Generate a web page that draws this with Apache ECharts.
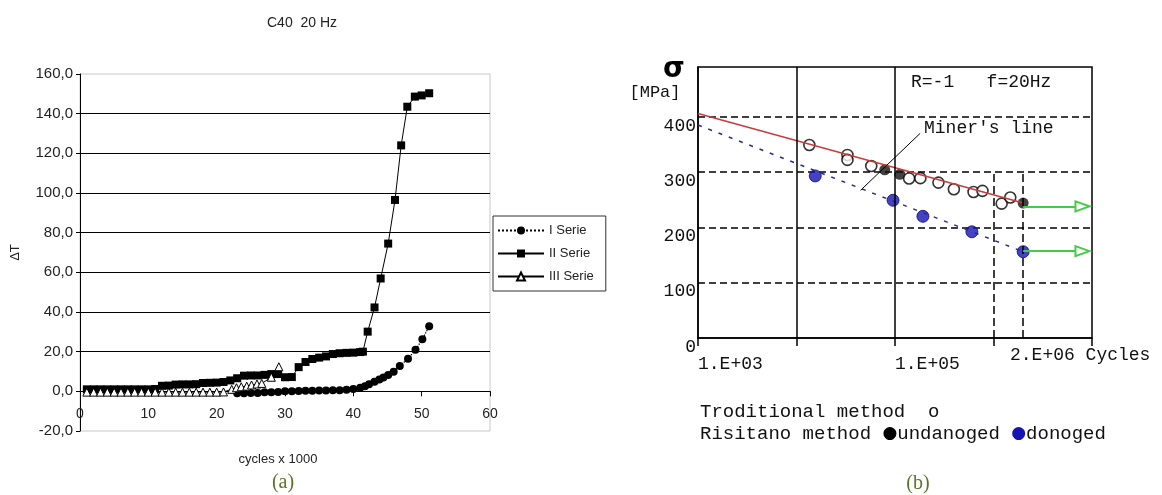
<!DOCTYPE html>
<html>
<head>
<meta charset="utf-8">
<script src="https://cdn.jsdelivr.net/npm/echarts@6/dist/echarts.min.js"></script>
<style>
html, body { margin: 0; padding: 0; background: #fff; }
#chart { width: 1162px; height: 495px; }
</style>
</head>
<body>
<div id="chart"></div>
<script>
// (a) temperature rise vs cycles x 1000
const serieI = [[23,-1],[24,-1],[25,-0.8],[26,-0.8],[27,-0.5],[28,-0.5],[29,-0.3],[30,0],[31,0],[32,0.2],[33,0.3],[34,0.3],[35,0.4],[36,0.4],[37,0.5],[38,0.6],[39,0.8],[40,1.2],[41,1.8],[41.7,2.6],[42.3,3.6],[43.1,4.8],[43.8,6],[44.4,7],[45.1,8.2],[45.9,9.9],[46.8,12.8],[48,16.4],[49.1,21],[50.1,26.2],[51.1,32.8]];
const serieII = [[1,1],[2,1],[3,1],[4,1],[5,1],[6,1],[7,1],[8,1],[9,1],[10,1],[11,1.2],[12,2.8],[13,2.9],[14,3.4],[15,3.5],[16,3.5],[17,3.6],[18,4.2],[19,4.3],[20,4.4],[21,4.7],[22,5.5],[23,6.6],[24,7.9],[25,8],[26,8],[27,8.3],[28,8.7],[29,8.7],[30,7.1],[31,7.2],[32,12.2],[33,14.8],[34,16.3],[35,17],[36,17.6],[37,18.8],[38,19.2],[39,19.4],[40,19.5],[41,19.8],[41.4,20],[42.1,30.1],[43.1,42.3],[44,56.9],[45.1,74.5],[46.1,96.5],[47,124],[47.9,143.5],[49,148.6],[50,149.2],[51.1,150.3]];
const serieIII = [[1,-0.4],[2,-0.4],[3,-0.4],[4,-0.4],[5,-0.4],[6,-0.4],[7,-0.4],[8,-0.4],[9,-0.4],[10,-0.4],[11,-0.4],[12,-0.4],[13,-0.4],[14,-0.4],[15,-0.4],[16,-0.4],[17,-0.4],[18,-0.4],[19,-0.4],[20,-0.4],[21,-0.3],[22.2,1],[22.9,1.8],[23.6,2.3],[24.4,2.6],[25.1,3.2],[25.9,3.7],[26.6,4],[28,7.1],[29.1,12.4]];
const legendA = ['I Serie', 'II Serie', 'III Serie'];

// (b) S-N diagram
const tradPoints = [[13500,349],[32900,331],[32900,322],[57400,311],[139000,288.5],[181000,289],[276000,281],[396000,269],[627000,264],[773000,266],[1210000,243],[1480000,254]];
const undamagedPoints = [[78700,304],[112000,296],[2000000,244]];
const damagedPoints = [[15500,293],[95500,249],[192000,220],[603000,192],[2000000,156]];
const minerLine = [[1000,406],[2000000,244]];
const risitanoLine = [[1000,385],[2000000,156]];
const minerLeader = [[180000,370],[44700,267]];
const arrowLevels = [238, 157];
const arrowRange = [2000000, 8000000];
const solidVerticals = [1e4, 1e5];
const dashedVerticals = [1e6, 2e6];
const xLabelsB = ['1.E+03', '', '1.E+05', '', ''];

const fa = 'Liberation Sans, Arial, sans-serif';
const fb = 'Liberation Mono, DejaVu Sans Mono, monospace';

const chart = echarts.init(document.getElementById('chart'));

const gridLines = [];
solidVerticals.forEach(v => {
  gridLines.push([{ coord: [v, 0] }, { coord: [v, 490], lineStyle: { type: 'solid' } }]);
});
dashedVerticals.forEach(v => {
  gridLines.push([{ coord: [v, 0] }, { coord: [v, 300], lineStyle: { type: [8, 4] } }]);
});

chart.setOption({
  animation: false,
  grid: [
    { left: 80, top: 74, width: 410, height: 357, show: true, borderColor: '#c8c8c8', borderWidth: 1 },
    { left: 698, top: 67, width: 394, height: 271, show: true, borderColor: '#000', borderWidth: 1.5 }
  ],
  legend: {
    data: legendA, orient: 'vertical', left: 493, top: 216,
    padding: [8, 12, 8, 4], itemWidth: 46, itemHeight: 10, itemGap: 10,
    borderColor: '#333', borderWidth: 1, selectedMode: false,
    textStyle: { fontFamily: fa, fontSize: 13, color: '#222' }
  },
  xAxis: [
    {
      // axis drawn on the zero line: grid bottom is -20, so lift it by 20 units
      gridIndex: 0, type: 'value', min: 0, max: 60, interval: 10,
      position: 'bottom', offset: -39.7,
      axisLine: { onZero: false, lineStyle: { color: '#000', width: 1 } },
      axisTick: { length: 5, lineStyle: { color: '#000' } },
      axisLabel: { color: '#222', fontFamily: fa, fontSize: 14, margin: 16 },
      splitLine: { show: false }
    },
    {
      gridIndex: 1, type: 'log', logBase: 10, min: 1000, max: 1e7,
      axisLine: { lineStyle: { color: '#000', width: 1.5 } },
      axisTick: { length: 8, lineStyle: { color: '#000', width: 1.5 } },
      minorTick: { show: false },
      axisLabel: {
        color: '#111', fontFamily: fb, fontSize: 18, margin: 17, align: 'left',
        formatter: v => xLabelsB[Math.round(Math.log10(v)) - 3] || ''
      },
      splitLine: { show: false }
    }
  ],
  yAxis: [
    {
      gridIndex: 0, type: 'value', min: -20, max: 160, interval: 20,
      name: 'ΔT', nameLocation: 'middle', nameGap: 58, nameRotate: 90,
      nameTextStyle: { fontFamily: fa, fontSize: 13, color: '#222' },
      axisLine: { show: true, onZero: false, lineStyle: { color: '#000', width: 1 } },
      axisTick: { show: true, length: 4, lineStyle: { color: '#000' } },
      axisLabel: { color: '#222', fontFamily: fa, fontSize: 15, margin: 7,
        formatter: v => v.toFixed(1).replace('.', ',') },
      splitLine: { show: true, showMinLine: false, showMaxLine: false, lineStyle: { color: '#000', width: 1 } }
    },
    {
      gridIndex: 1, type: 'value', min: 0, max: 490, interval: 100,
      axisLine: { show: true, onZero: false, lineStyle: { color: '#000', width: 1.5 } },
      axisTick: { show: false },
      axisLabel: { color: '#111', fontFamily: fb, fontSize: 18, margin: 2, verticalAlign: 'top',
        formatter: v => (v % 100 === 0 ? String(v) : '') },
      splitLine: { show: true, showMinLine: false, showMaxLine: false, lineStyle: { color: '#000', width: 1.5, type: [7, 4] } }
    }
  ],
  series: [
    {
      name: 'I Serie', type: 'line', xAxisIndex: 0, yAxisIndex: 0, data: serieI,
      symbol: 'circle', symbolSize: 8, itemStyle: { color: '#000' },
      lineStyle: { color: '#000', width: 1.3, type: 'dotted' }
    },
    {
      name: 'II Serie', type: 'line', xAxisIndex: 0, yAxisIndex: 0, data: serieII,
      symbol: 'rect', symbolSize: 8, itemStyle: { color: '#000' },
      lineStyle: { color: '#000', width: 1 }
    },
    {
      name: 'III Serie', type: 'line', xAxisIndex: 0, yAxisIndex: 0, data: serieIII,
      symbol: 'triangle', symbolSize: 8,
      itemStyle: { color: '#fff', borderColor: '#000', borderWidth: 1 },
      lineStyle: { color: '#000', width: 1 }
    },
    {
      name: 'Miner', type: 'line', xAxisIndex: 1, yAxisIndex: 1, data: minerLine,
      symbol: 'none', lineStyle: { color: '#c83c3c', width: 1.5 },
      markLine: {
        silent: true, symbol: 'none', label: { show: false },
        lineStyle: { color: '#000', width: 1.5 },
        data: gridLines
      }
    },
    {
      name: 'Risitano', type: 'line', xAxisIndex: 1, yAxisIndex: 1, data: risitanoLine,
      symbol: 'none', lineStyle: { color: '#2828a0', width: 1.5, type: [4, 7] },
      markLine: {
        silent: true, symbol: 'none', label: { show: false },
        lineStyle: { color: '#000', width: 1, type: 'solid' },
        data: [[{ coord: minerLeader[0] }, { coord: minerLeader[1] }]]
      }
    },
    {
      name: 'Traditional', type: 'scatter', xAxisIndex: 1, yAxisIndex: 1, data: tradPoints,
      symbol: 'circle', symbolSize: 11,
      itemStyle: { color: '#fff', borderColor: '#000', borderWidth: 1.6 }
    },
    {
      name: 'undamaged', type: 'scatter', xAxisIndex: 1, yAxisIndex: 1, data: undamagedPoints,
      symbol: 'circle', symbolSize: 11, itemStyle: { color: '#111' },
      markLine: {
        silent: true, symbol: ['none', 'emptyTriangle'], symbolSize: [10, 14],
        label: { show: false },
        lineStyle: { color: '#44cc44', width: 2, type: 'solid' },
        data: arrowLevels.map(l => [{ coord: [arrowRange[0], l] }, { coord: [arrowRange[1], l] }])
      }
    },
    {
      name: 'damaged', type: 'scatter', xAxisIndex: 1, yAxisIndex: 1, data: damagedPoints,
      symbol: 'circle', symbolSize: 12,
      itemStyle: { color: '#1414b4', borderColor: '#0a0a70', borderWidth: 1 }
    }
  ],
  graphic: [
    { type: 'text', x: 302, y: 23, style: { text: 'C40  20 Hz', font: '14px ' + fa, fill: '#222', textAlign: 'center', textVerticalAlign: 'middle' } },
    { type: 'text', x: 278, y: 459, style: { text: 'cycles x 1000', font: '13px ' + fa, fill: '#222', textAlign: 'center', textVerticalAlign: 'middle' } },
    { type: 'text', x: 283, y: 483, style: { text: '(a)', font: '20px Liberation Serif, serif', fill: '#55772a', textAlign: 'center', textVerticalAlign: 'middle' } },
    { type: 'text', x: 918, y: 484, style: { text: '(b)', font: '20px Liberation Serif, serif', fill: '#55772a', textAlign: 'center', textVerticalAlign: 'middle' } },
    { type: 'text', x: 674, y: 70, style: { text: 'σ', font: 'bold 28px DejaVu Sans, sans-serif', fill: '#000', textAlign: 'center', textVerticalAlign: 'middle' } },
    { type: 'text', x: 655, y: 92, style: { text: '[MPa]', font: '17px ' + fb, fill: '#111', textAlign: 'center', textVerticalAlign: 'middle' } },
    { type: 'text', x: 911, y: 82, style: { text: 'R=-1   f=20Hz', font: '18px ' + fb, fill: '#111', textVerticalAlign: 'middle' } },
    { type: 'text', x: 924, y: 128, style: { text: "Miner's line", font: '18px ' + fb, fill: '#111', textVerticalAlign: 'middle' } },
    { type: 'text', x: 1010, y: 355, style: { text: '2.E+06 Cycles', font: '18px ' + fb, fill: '#111', textVerticalAlign: 'middle' } },
    { type: 'text', x: 700, y: 412, style: { text: 'Troditional method  o', font: '19px ' + fb, fill: '#111', textVerticalAlign: 'middle' } },
    { type: 'text', x: 700, y: 434, style: {
        text: 'Risitano method {k|●}undanoged {b|●}donoged', font: '19px ' + fb, fill: '#111', textVerticalAlign: 'middle',
        rich: { k: { fill: '#000', font: '17px DejaVu Sans, sans-serif' }, b: { fill: '#1414b4', font: '17px DejaVu Sans, sans-serif' } }
      } }
  ]
});
</script>
</body>
</html>
